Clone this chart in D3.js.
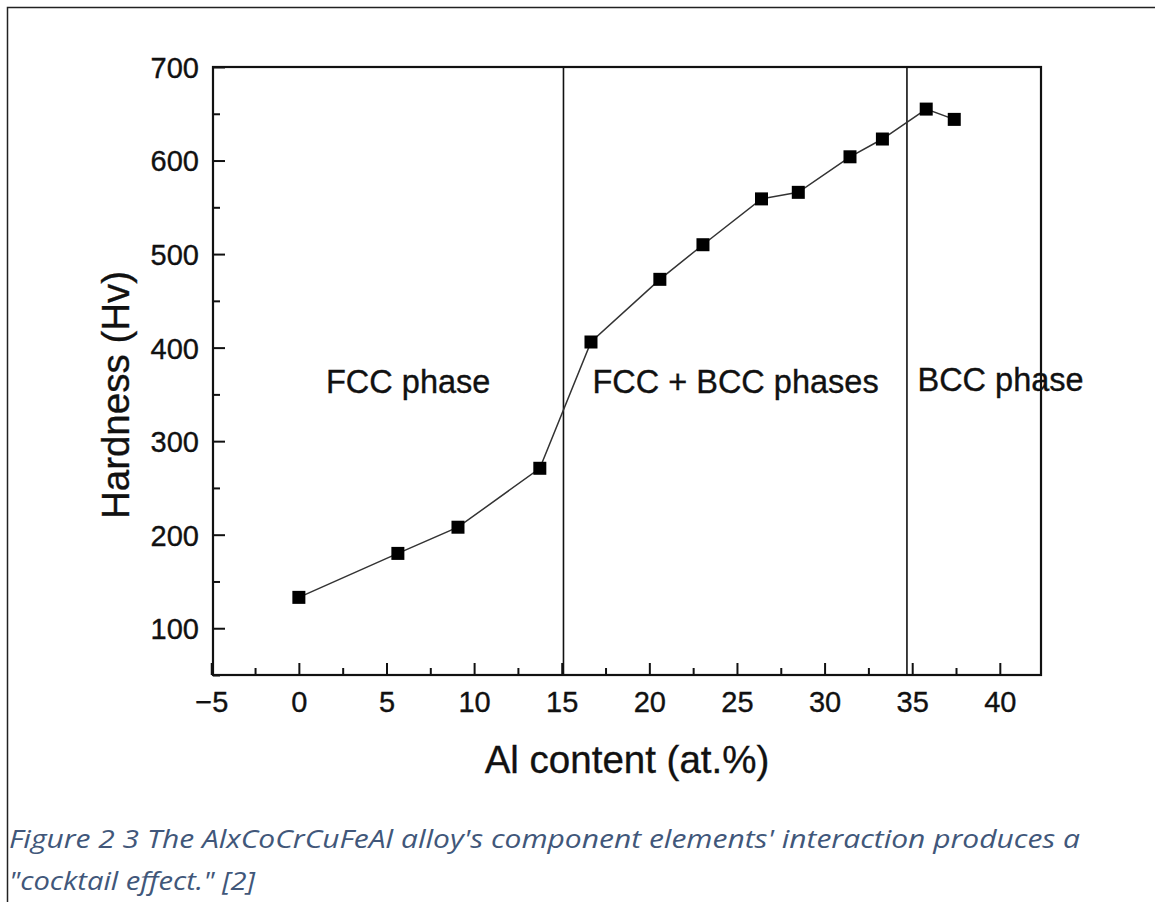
<!DOCTYPE html>
<html lang="en">
<head>
<meta charset="UTF-8">
<title>Hardness vs Al content</title>
<script src="https://cdn.jsdelivr.net/npm/d3@7"></script>
<style>
  body { margin: 0; background: #fff; }
  svg { display: block; }
  .tick text { font-family: "Liberation Sans", Arial, sans-serif; font-size: 29px; fill: #111; stroke: #111; stroke-width: 0.35; }
  .tick line { stroke: #111; stroke-width: 2; }
  .phase { font-family: "Liberation Sans", Arial, sans-serif; font-size: 32.5px; fill: #111; stroke: #111; stroke-width: 0.35; }
  .title { font-family: "Liberation Sans", Arial, sans-serif; font-size: 38.5px; fill: #111; stroke: #111; stroke-width: 0.35; }
  .caption { font-family: "Open Sans", sans-serif; font-style: italic; font-size: 26px; fill: #41577a; }
</style>
</head>
<body>
<svg id="chart" width="1155" height="902"></svg>
<script>
// data
const alContent = [0, 5.65, 9.08, 13.75, 16.67, 20.6, 23.06, 26.4, 28.5, 31.45, 33.3, 35.8, 37.4];
const hardness  = [133, 180, 208, 271, 406, 473, 510, 559, 566, 604, 623, 655, 644];
const xTicks = [-5, 0, 5, 10, 15, 20, 25, 30, 35, 40];
const xMinor = [-2.5, 2.5, 7.5, 12.5, 17.5, 22.5, 27.5, 32.5, 37.5];
const yTicks = [100, 200, 300, 400, 500, 600, 700];
const yMinor = [50, 150, 250, 350, 450, 550, 650];
const phaseBounds = [15.1, 34.7];
const phaseNames = ["FCC phase", "FCC + BCC phases", "BCC phase"];
const phaseX = [1.55, 16.75, 35.3];
const phaseY = [352, 352, 354];

const svg = d3.select("#chart");
const mLeft = 213, mRight = 1041, mTop = 67, mBottom = 675;

// outer frame of the figure
svg.append("rect")
  .attr("x", 7.5).attr("y", 7.5)
  .attr("width", 1200).attr("height", 1000)
  .attr("fill", "none").attr("stroke", "#222").attr("stroke-width", 1.5);

const x = d3.scaleLinear().domain([-4.9, 42.35]).range([mLeft, mRight]);
const y = d3.scaleLinear().domain([50, 700]).range([mBottom, mTop]);

// minor ticks first
svg.append("g")
  .attr("transform", `translate(0,${mBottom})`)
  .call(d3.axisBottom(x).tickValues(xMinor).tickSize(-7).tickFormat(""))
  .call(g => g.select(".domain").remove());
svg.append("g")
  .attr("transform", `translate(${mLeft},0)`)
  .call(d3.axisLeft(y).tickValues(yMinor).tickSize(-7).tickFormat(""))
  .call(g => g.select(".domain").remove());

// major ticks
svg.append("g")
  .attr("transform", `translate(0,${mBottom})`)
  .call(d3.axisBottom(x).tickValues(xTicks).tickSize(-12).tickPadding(16))
  .call(g => g.select(".domain").remove());
svg.append("g")
  .attr("transform", `translate(${mLeft},0)`)
  .call(d3.axisLeft(y).tickValues(yTicks).tickSize(-12).tickPadding(14))
  .call(g => g.select(".domain").remove())
  .call(g => g.selectAll(".tick text").attr("dy", "0.36em"));

// plot frame
svg.append("rect")
  .attr("x", mLeft).attr("y", mTop)
  .attr("width", mRight - mLeft).attr("height", mBottom - mTop)
  .attr("fill", "none").attr("stroke", "#111").attr("stroke-width", 2.2);

// phase boundaries
svg.selectAll(".bound")
  .data(phaseBounds)
  .join("line")
  .attr("class", "bound")
  .attr("x1", d => x(d)).attr("x2", d => x(d))
  .attr("y1", mTop).attr("y2", mBottom)
  .attr("stroke", "#111").attr("stroke-width", 1.6);

// data line and markers
const pts = alContent.map((v, i) => [v, hardness[i]]);
svg.append("path")
  .datum(pts)
  .attr("fill", "none")
  .attr("stroke", "#333")
  .attr("stroke-width", 1.5)
  .attr("d", d3.line().x(d => x(d[0])).y(d => y(d[1])));

const s = 13;
svg.selectAll(".pt")
  .data(pts)
  .join("rect")
  .attr("class", "pt")
  .attr("x", d => x(d[0]) - s / 2)
  .attr("y", d => y(d[1]) - s / 2)
  .attr("width", s).attr("height", s)
  .attr("fill", "#000");

// phase labels
svg.selectAll(".phase")
  .data(phaseNames)
  .join("text")
  .attr("class", "phase")
  .attr("x", (d, i) => x(phaseX[i]))
  .attr("y", (d, i) => y(phaseY[i]))
  .text(d => d);

// axis titles
svg.append("text")
  .attr("class", "title")
  .attr("x", (mLeft + mRight) / 2).attr("y", 773)
  .attr("text-anchor", "middle")
  .text("Al content (at.%)");
svg.append("text")
  .attr("class", "title")
  .attr("transform", "translate(129,395) rotate(-90)")
  .attr("text-anchor", "middle")
  .text("Hardness (Hv)");

// caption
svg.append("text")
  .attr("class", "caption")
  .attr("x", 9).attr("y", 848)
  .attr("textLength", 1071).attr("lengthAdjust", "spacingAndGlyphs")
  .text("Figure 2 3 The AlxCoCrCuFeAl alloy's component elements' interaction produces a");
svg.append("text")
  .attr("class", "caption")
  .attr("x", 9).attr("y", 890)
  .attr("textLength", 246).attr("lengthAdjust", "spacingAndGlyphs")
  .text("\"cocktail effect.\" [2]");
</script>
</body>
</html>
